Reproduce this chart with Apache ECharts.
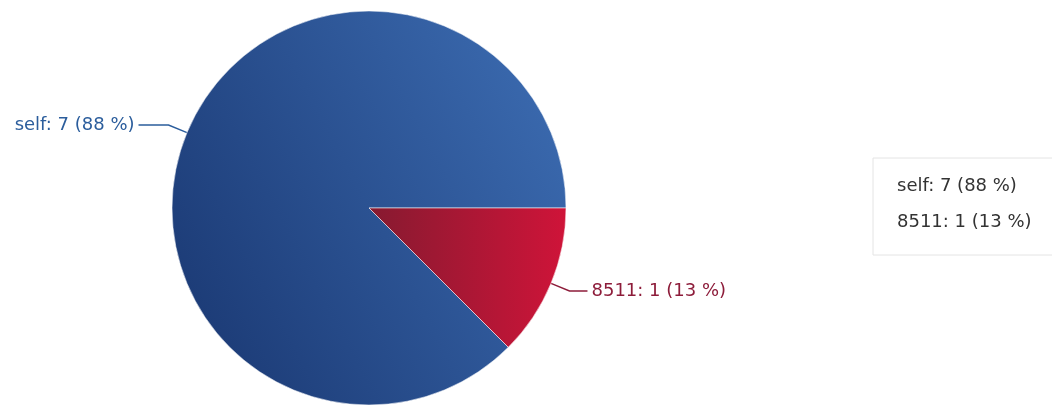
<!DOCTYPE html>
<html>
<head>
<meta charset="utf-8">
<script src="https://cdn.jsdelivr.net/npm/echarts@6/dist/echarts.min.js"></script>
<style>
  html, body { margin: 0; padding: 0; background: #ffffff; }
  #chart { width: 1052px; height: 408px; }
</style>
</head>
<body>
<div id="chart"></div>
<script>
// Slice names and counts
const names = ['self', '8511'];
const counts = [7, 1];

// Fill gradients (dark to light), label colours and leader tails per slice
const sliceFills = [
  { x: 180, y: 310, x2: 560, y2: 110, from: '#1c3b76', to: '#3a69ae' },
  { x: 369, y: 240, x2: 566, y2: 240, from: '#861a30', to: '#cf1439' }
];
const labelColors = ['#2b5d9c', '#8d1c3a'];
const leaderTails = [30, 18];

const total = counts.reduce((a, b) => a + b, 0);
const pct = v => Math.round(v / total * 100);
const fmt = (n, v) => n + ': ' + v + ' (' + pct(v) + ' %)';

const fontFamily = '"DejaVu Sans", sans-serif';

const data = names.map((n, i) => ({
  name: n,
  value: counts[i],
  itemStyle: {
    color: new echarts.graphic.LinearGradient(
      sliceFills[i].x, sliceFills[i].y, sliceFills[i].x2, sliceFills[i].y2,
      [{ offset: 0, color: sliceFills[i].from }, { offset: 1, color: sliceFills[i].to }],
      true
    )
  },
  label: { color: labelColors[i] },
  labelLine: { length2: leaderTails[i], lineStyle: { color: labelColors[i] } }
}));

const chart = echarts.init(document.getElementById('chart'), null, { renderer: 'canvas' });
chart.setOption({
  animation: false,
  legend: {
    orient: 'vertical',
    left: 873,
    top: 158,
    padding: [19, 60, 24, 18],
    itemGap: 18,
    itemWidth: 0,
    itemHeight: 0,
    icon: 'rect',
    borderColor: '#e4e4e4',
    borderWidth: 1,
    backgroundColor: '#ffffff',
    selectedMode: false,
    textStyle: { fontFamily: fontFamily, fontSize: 18, color: '#333333' },
    formatter: n => fmt(n, counts[names.indexOf(n)]),
    data: names
  },
  series: [{
    type: 'pie',
    center: [369, 208],
    radius: 197,
    startAngle: -45,
    clockwise: true,
    avoidLabelOverlap: false,
    itemStyle: { borderColor: 'rgba(255,255,255,0.55)', borderWidth: 1 },
    label: {
      show: true,
      position: 'outside',
      fontFamily: fontFamily,
      fontSize: 18,
      formatter: p => fmt(p.name, p.value),
      distanceToLabelLine: 4
    },
    labelLine: { show: true, length: 20, length2: 22, smooth: false, lineStyle: { width: 1.5 } },
    emphasis: { disabled: true },
    data: data
  }]
});
</script>
</body>
</html>
